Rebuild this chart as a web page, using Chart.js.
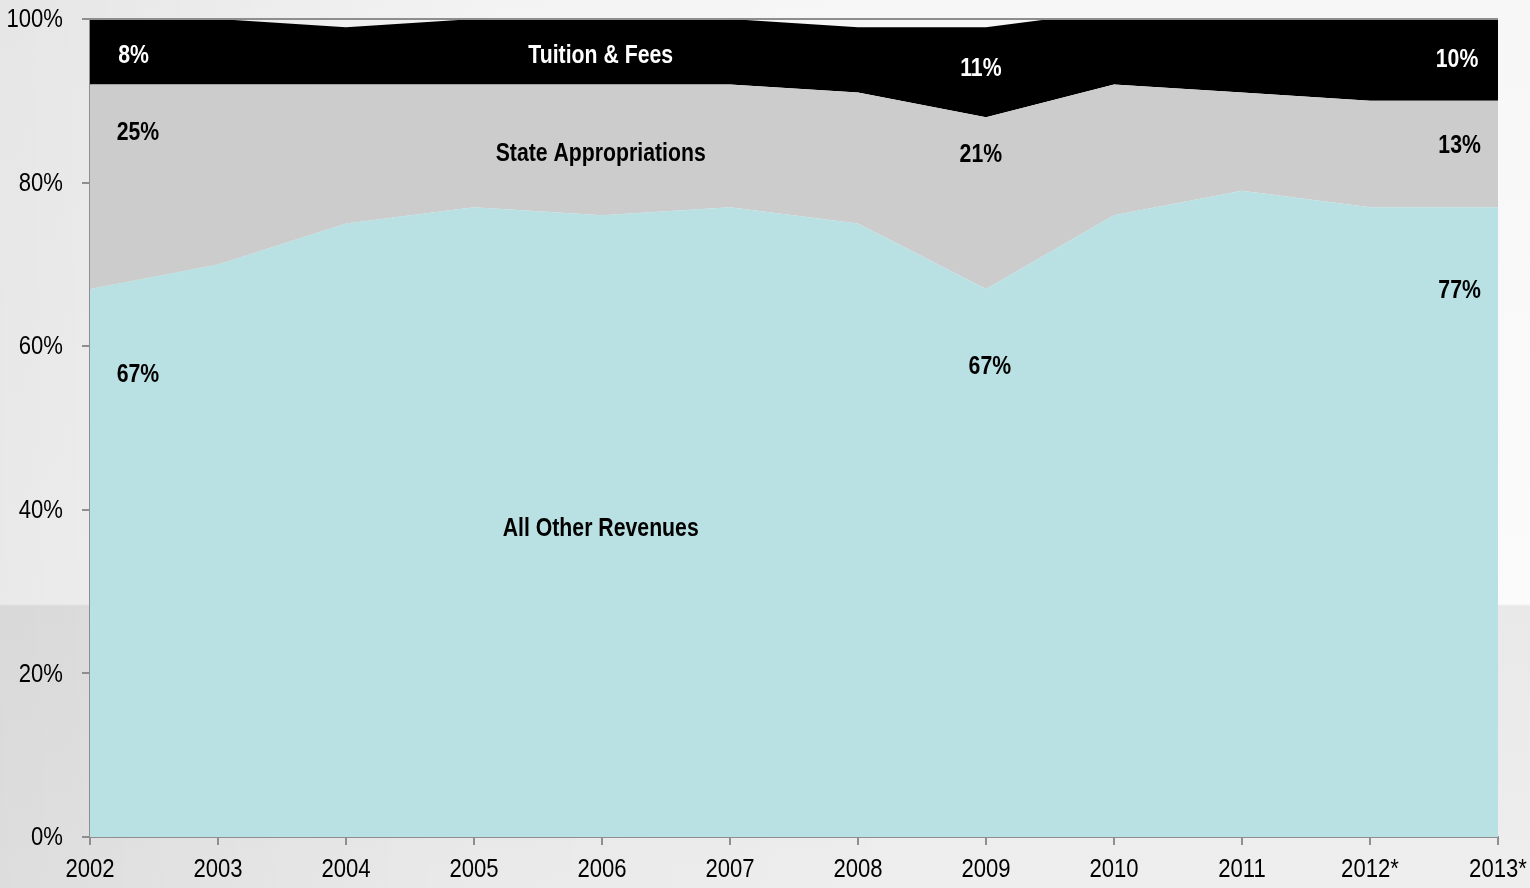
<!DOCTYPE html>
<html>
<head>
<meta charset="utf-8">
<script src="https://cdn.jsdelivr.net/npm/chart.js@4.4.1/dist/chart.umd.min.js"></script>
<style>
  html, body { margin: 0; padding: 0; }
  body {
    width: 1530px; height: 888px; overflow: hidden;
    background:
      linear-gradient(to right, rgba(0,0,0,0.07) 0, rgba(0,0,0,0.02) 30%, rgba(0,0,0,0) 60%),
      linear-gradient(to bottom, #f7f7f7 0, #fbfbfb 604px, #e9e9e9 606px, #eeeeee 888px);
  }
  #wrap { position: absolute; left: 0; top: 0; width: 1530px; height: 888px; }
</style>
</head>
<body>
<div id="wrap"><canvas id="chart"></canvas></div>
<script>
const FONT = '"Liberation Sans", Arial, sans-serif';

// categorias e valores (%)
const years = ['2002', '2003', '2004', '2005', '2006', '2007', '2008', '2009', '2010', '2011', '2012*', '2013*'];
const allOther = [67, 70, 75, 77, 76, 77, 75, 67, 76, 79, 77, 77];
const stateApprop = [25, 22, 17, 15, 16, 15, 16, 21, 16, 12, 13, 13];
const tuitionFees = [8, 8, 7, 8, 8, 8, 8, 11, 9, 9, 10, 10];
const yTicks = [0, 20, 40, 60, 80, 100];

// rótulos dentro do gráfico: texto, posição no eixo x (índice), valor y, cor
const labelTexts = ['8%', 'Tuition & Fees', '11%', '10%', '25%', 'State Appropriations', '21%', '13%', '77%', '67%', '67%', 'All Other Revenues'];
const labelX = [0.34, 3.99, 6.96, 10.68, 0.375, 3.99, 6.96, 10.7, 10.7, 0.375, 7.03, 3.99];
const labelY = [95.5, 95.5, 93.9, 95.0, 86.0, 83.5, 83.3, 84.4, 66.7, 56.5, 57.4, 37.7];
const labelColors = ['#fff', '#fff', '#fff', '#fff', '#000', '#000', '#000', '#000', '#000', '#000', '#000', '#000'];

const AXIS_GRAY = '#8e8e8e';
const NARROW = 0.85; // imitar Arial Narrow

function textoEstreito(ctx, txt, x, y, align) {
    ctx.save();
    ctx.translate(x, y);
    ctx.scale(NARROW, 1);
    ctx.textAlign = align;
    ctx.fillText(txt, 0, 0);
    ctx.restore();
}

// escreve rótulos, ticks e a borda de cima
const annotationsPlugin = {
    id: 'annotations',
    afterDraw(chart) {
        const { ctx, chartArea, scales } = chart;
        ctx.save();
        ctx.strokeStyle = AXIS_GRAY;
        ctx.lineWidth = 2;
        ctx.beginPath();
        ctx.moveTo(chartArea.left, chartArea.top);
        ctx.lineTo(chartArea.right, chartArea.top);
        ctx.stroke();

        ctx.textBaseline = 'middle';
        ctx.fillStyle = '#000';
        ctx.font = '26px ' + FONT;
        years.forEach((y, i) => {
            textoEstreito(ctx, y, scales.x.getPixelForTick(i), chartArea.bottom + 33, 'center');
        });
        yTicks.forEach(v => {
            textoEstreito(ctx, v + '%', 63, scales.y.getPixelForValue(v) + 1, 'right');
        });

        ctx.font = 'bold 25px ' + FONT;
        labelTexts.forEach((t, i) => {
            ctx.fillStyle = labelColors[i];
            textoEstreito(ctx, t, scales.x.getPixelForValue(labelX[i]), scales.y.getPixelForValue(labelY[i]), 'center');
        });
        ctx.restore();
    }
};

function criarGrafico() {
    const ctx = document.getElementById('chart').getContext('2d');
    new Chart(ctx, {
        type: 'line',
        data: {
            labels: years,
            datasets: [
                { label: 'All Other Revenues', data: allOther, backgroundColor: 'rgb(185,224,227)', borderWidth: 0, pointRadius: 0, fill: 'origin', tension: 0 },
                { label: 'State Appropriations', data: stateApprop, backgroundColor: '#cccccc', borderWidth: 0, pointRadius: 0, fill: '-1', tension: 0 },
                { label: 'Tuition & Fees', data: tuitionFees, backgroundColor: '#000000', borderWidth: 0, pointRadius: 0, fill: '-1', tension: 0 }
            ]
        },
        options: {
            responsive: true,
            maintainAspectRatio: false,
            animation: false,
            layout: { padding: { top: 19, right: 32, left: 0, bottom: 0 } },
            plugins: { legend: { display: false }, tooltip: { enabled: false } },
            scales: {
                x: {
                    offset: false,
                    grid: { display: true, drawOnChartArea: false, drawTicks: true, tickLength: 8, color: AXIS_GRAY, lineWidth: 2 },
                    border: { display: true, color: AXIS_GRAY, width: 2 },
                    ticks: { color: 'rgba(0,0,0,0)', font: { size: 1 }, maxRotation: 0, autoSkip: false },
                    afterFit(scale) { scale.height = 51; }
                },
                y: {
                    stacked: true,
                    min: 0, max: 100,
                    afterBuildTicks(scale) { scale.ticks = yTicks.map(v => ({ value: v })); },
                    grid: { display: true, drawOnChartArea: false, drawTicks: true, tickLength: 8, color: AXIS_GRAY, lineWidth: 2 },
                    border: { display: true, color: AXIS_GRAY, width: 2 },
                    ticks: { color: 'rgba(0,0,0,0)', font: { size: 1 } },
                    afterFit(scale) { scale.width = 90; }
                }
            }
        },
        plugins: [annotationsPlugin]
    });
}

document.addEventListener('DOMContentLoaded', criarGrafico);
</script>
</body>
</html>
